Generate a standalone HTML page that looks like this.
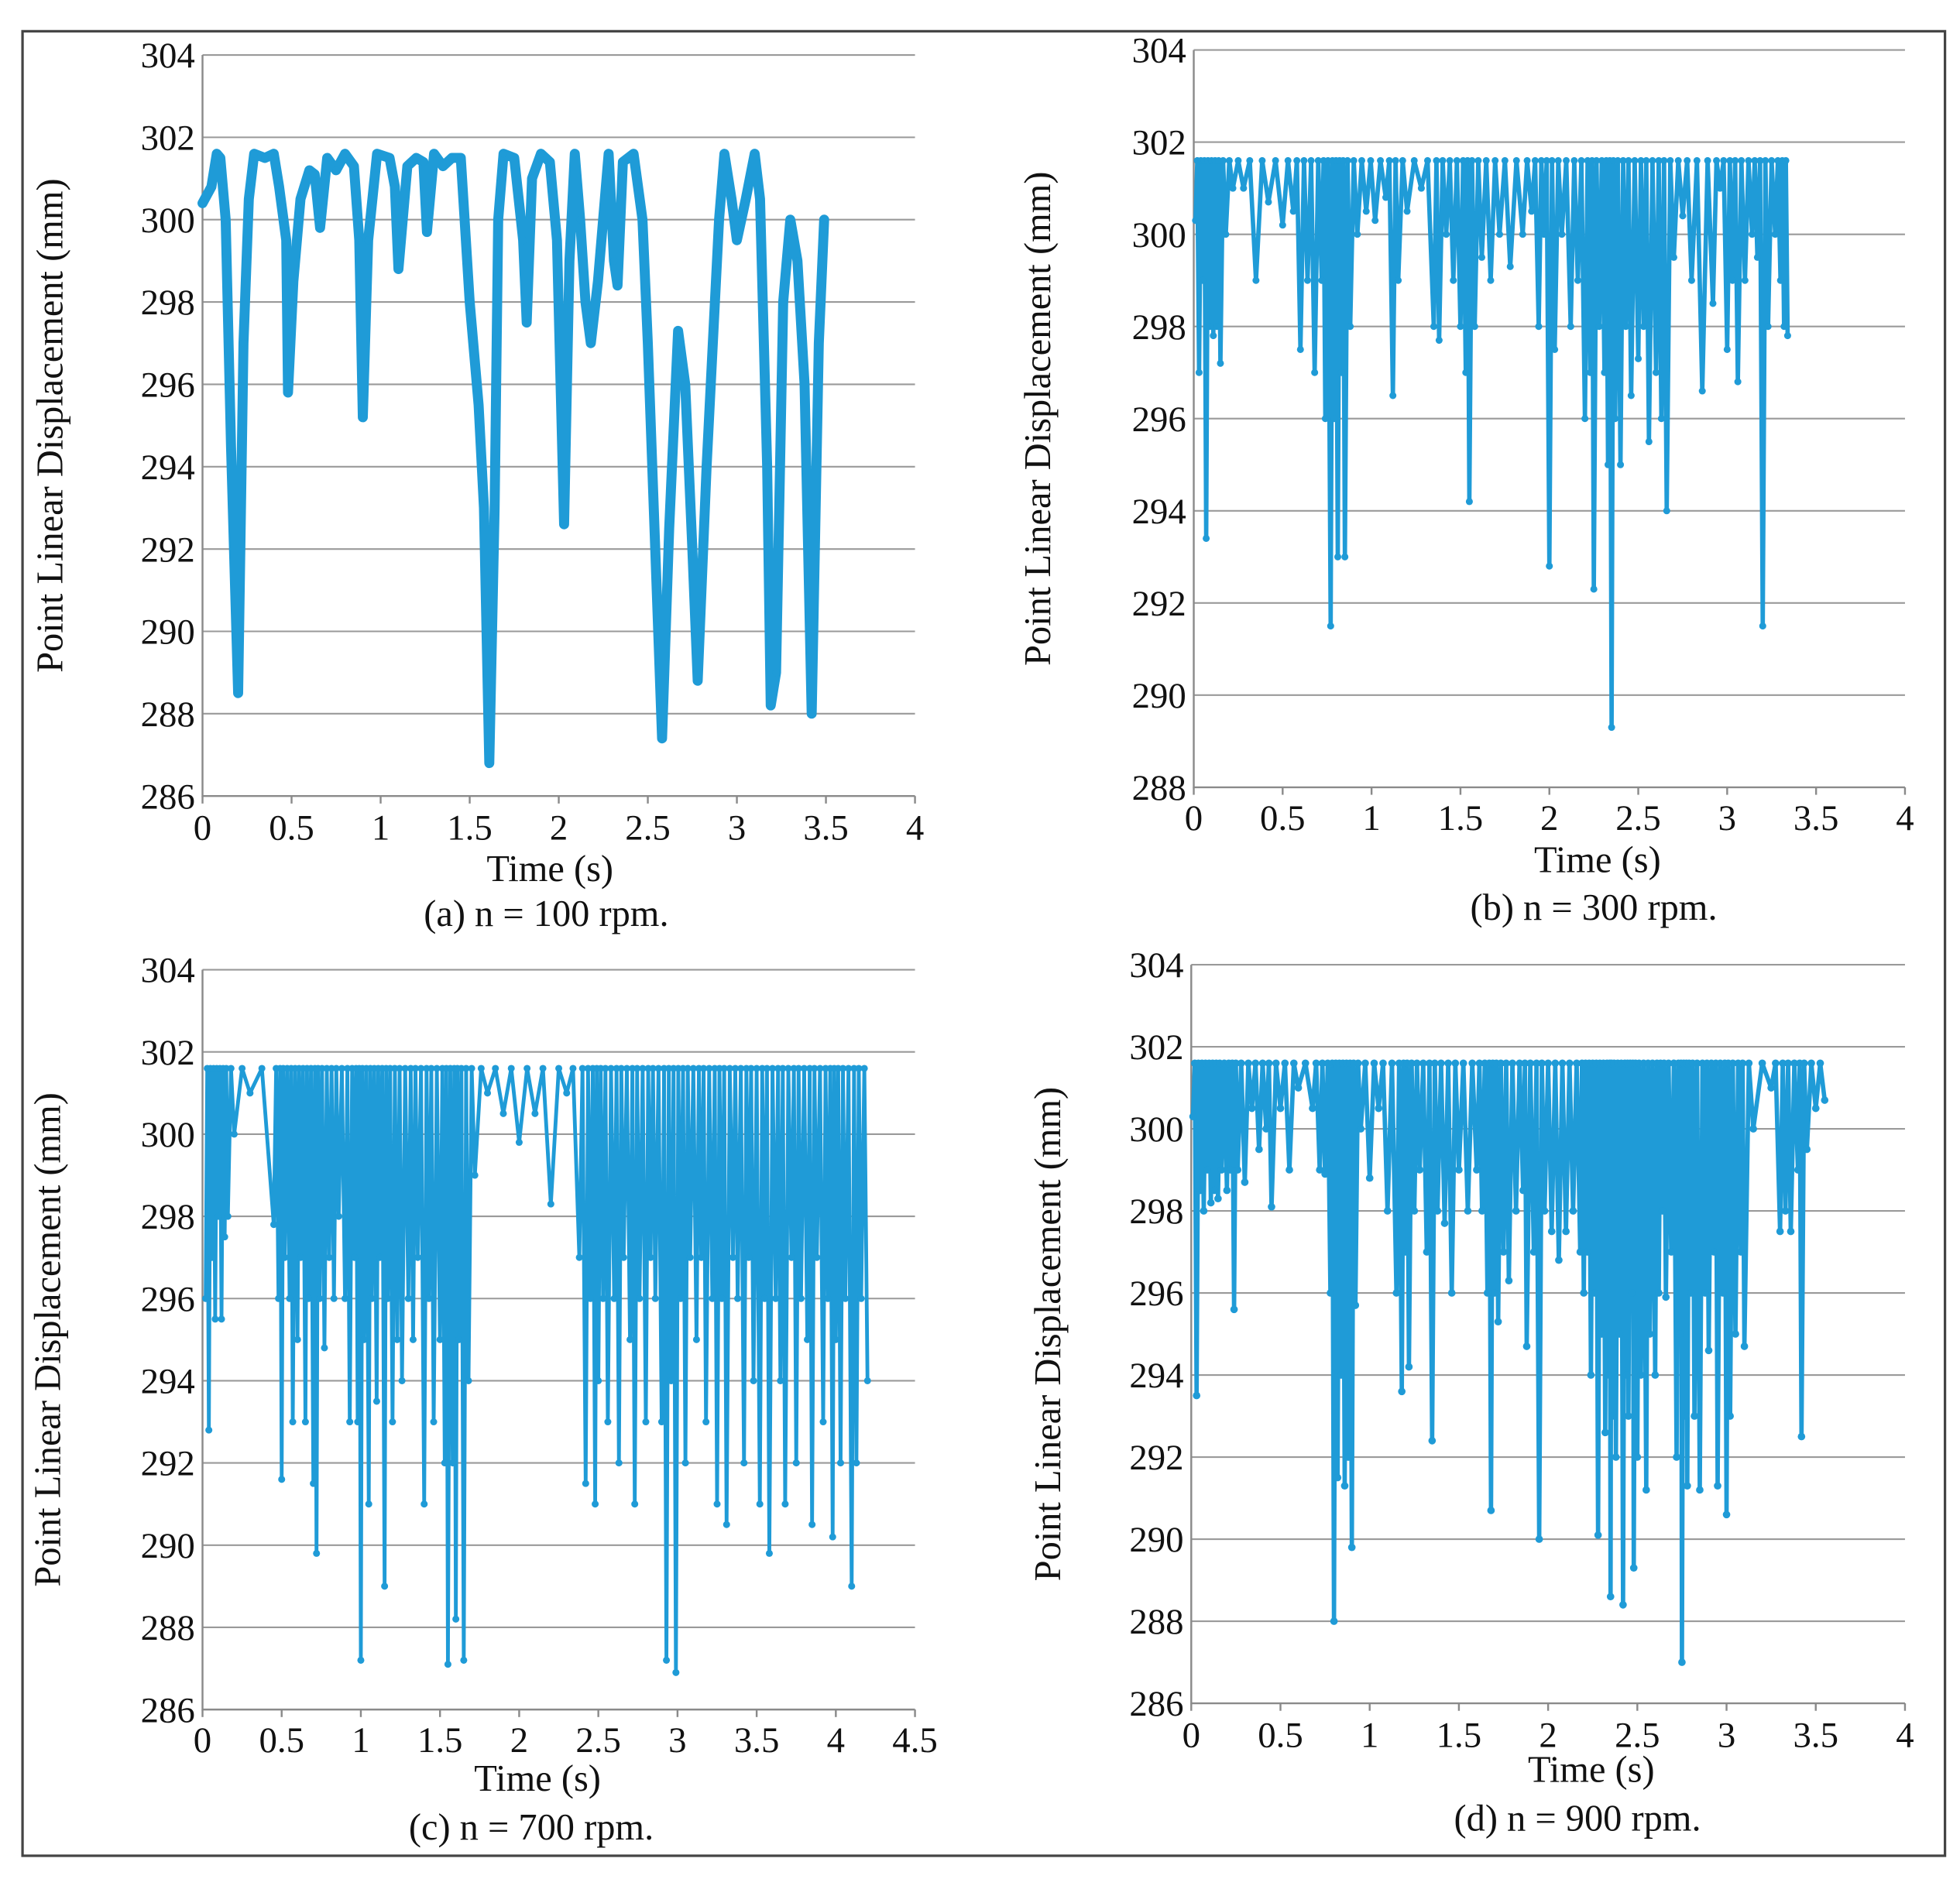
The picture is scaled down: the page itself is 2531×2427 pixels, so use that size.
<!DOCTYPE html>
<html><head><meta charset="utf-8"><style>
body{margin:0;background:#fff}
svg{display:block}
text{font-family:"Liberation Serif","Times New Roman",serif;fill:#111}
</style></head><body>
<svg id="fig" width="2531" height="2427" viewBox="0 0 1568 1503.6" xmlns="http://www.w3.org/2000/svg" font-family="Liberation Serif, Times New Roman, serif">
<rect x="18" y="25" width="1538" height="1460" fill="#fff" stroke="#444" stroke-width="2"/>
</svg>
<script>
// Panel (a) traced series
const aT=[0,0.05,0.08,0.1,0.13,0.16,0.2,0.23,0.26,0.29,0.35,0.4,0.43,0.47,0.48,0.51,0.55,0.6,0.63,0.66,0.7,0.75,0.8,0.85,0.88,0.9,0.93,0.98,1.05,1.08,1.1,1.15,1.2,1.24,1.26,1.3,1.35,1.4,1.45,1.5,1.55,1.58,1.61,1.64,1.66,1.69,1.75,1.8,1.82,1.85,1.9,1.95,1.99,2.03,2.06,2.09,2.12,2.15,2.18,2.22,2.28,2.31,2.33,2.36,2.42,2.47,2.5,2.55,2.58,2.62,2.67,2.71,2.75,2.78,2.83,2.9,2.93,2.97,3.0,3.05,3.1,3.13,3.17,3.19,3.22,3.26,3.3,3.34,3.38,3.42,3.46,3.49];
const aY=[300.4,300.8,301.6,301.5,300,294.5,288.5,297,300.5,301.6,301.5,301.6,300.8,299.5,295.8,298.5,300.5,301.2,301.1,299.8,301.5,301.2,301.6,301.3,299.5,295.2,299.5,301.6,301.5,300.8,298.8,301.3,301.5,301.4,299.7,301.6,301.3,301.5,301.5,298,295.5,293,286.8,293,300,301.6,301.5,299.5,297.5,301,301.6,301.4,299.5,292.6,299,301.6,300,298,297,298.5,301.6,299,298.4,301.4,301.6,300,297,291,287.4,292.5,297.3,296,292,288.8,294,300,301.6,300.5,299.5,300.5,301.6,300.5,294,288.2,289,298,300,299,296,288,297,300];
// Panels (b)-(d): dip times and dip minima (peaks reach 301.6 between dips)
const peakVal=301.6;
const bDipT=[0.01,0.03,0.05,0.07,0.09,0.11,0.13,0.15,0.18,0.22,
 0.28,0.35,0.42,0.5,0.56,0.6,0.64,0.68,0.72,0.74,
 0.77,0.79,0.81,0.83,0.85,0.88,0.92,0.97,1.02,1.08,
 1.12,1.15,1.2,1.28,1.35,1.38,1.42,1.46,1.5,1.53,
 1.55,1.58,1.62,1.67,1.72,1.78,1.85,1.9,1.94,1.97,
 2.0,2.03,2.07,2.12,2.16,2.2,2.23,2.25,2.28,2.31,
 2.33,2.35,2.37,2.4,2.43,2.46,2.5,2.53,2.56,2.6,
 2.63,2.66,2.7,2.75,2.8,2.86,2.92,2.96,3.0,3.03,
 3.06,3.1,3.14,3.17,3.2,3.23,3.27,3.3,3.32,3.34];
const bDipY=[300.3,297,299,293.4,298,297.8,298,297.2,300,301,
 301,299,300.7,300.2,300.5,297.5,299,297,299,296,
 291.5,296,293,297,293,298,300,300.5,300.3,300.8,
 296.5,299,300.5,301,298,297.7,300,299,298,297,
 294.2,298,299.5,299,300,299.3,300,300.5,298,300,
 292.8,297.5,300,298,299,296,297,292.3,298,297,
 295,289.3,296,295,298,296.5,297.3,298,295.5,297,
 296,294,299.5,300.4,299,296.6,298.5,301,297.5,299,
 296.8,299,300,299.5,291.5,298,300,299,298,297.8];
const cDipT=[0.02,0.04,0.06,0.08,0.1,0.12,0.14,0.16,0.2,0.3,
 0.45,0.48,0.5,0.52,0.55,0.57,0.6,0.62,0.65,0.67,
 0.7,0.72,0.74,0.77,0.8,0.83,0.86,0.9,0.93,0.96,
 0.98,1.0,1.02,1.05,1.07,1.1,1.12,1.15,1.17,1.2,
 1.23,1.26,1.3,1.33,1.36,1.4,1.43,1.46,1.5,1.53,
 1.55,1.58,1.6,1.62,1.65,1.68,1.72,1.8,1.9,2.0,
 2.1,2.2,2.3,2.38,2.42,2.45,2.48,2.5,2.53,2.56,
 2.6,2.63,2.66,2.7,2.73,2.76,2.8,2.83,2.86,2.9,
 2.93,2.96,2.99,3.02,3.05,3.08,3.12,3.15,3.18,3.22,
 3.25,3.28,3.31,3.35,3.38,3.42,3.45,3.48,3.52,3.55,
 3.58,3.62,3.65,3.68,3.72,3.75,3.78,3.82,3.85,3.88,
 3.92,3.95,3.98,4.0,4.03,4.06,4.1,4.13,4.16,4.2];
const cDipY=[296,292.8,297,295.5,298,295.5,297.5,298,300,301,
 297.8,296,291.6,297,296,293,295,297,293,296,
 291.5,289.8,296,294.8,297,296,298,296,293,297,
 293,287.2,295,291,296,293.5,297,289,296,293,
 295,294,296,295,297,291,296,293,295,292,
 287.1,292,288.2,295,287.2,294,299,301,300.5,299.8,
 300.5,298.3,301,297,291.5,296,291,294,296,293,
 296,292,297,295,291,296,293,297,296,293,
 287.2,294,286.9,296,292,297,295,297,293,296,
 291,296,290.5,297,296,292,297,294,291,296,
 289.8,296,294,291,297,292,296,295,290.5,297,
 293,296,290.2,295,292,296,289,292,296,294];
const dDipT=[0.01,0.03,0.05,0.07,0.09,0.11,0.13,0.15,0.17,0.2,
 0.22,0.24,0.26,0.3,0.34,0.38,0.42,0.45,0.5,0.55,
 0.6,0.68,0.72,0.75,0.78,0.8,0.82,0.84,0.86,0.88,
 0.9,0.92,0.95,1.0,1.05,1.1,1.15,1.18,1.2,1.22,
 1.25,1.28,1.32,1.35,1.38,1.42,1.46,1.5,1.55,1.6,
 1.63,1.66,1.68,1.7,1.72,1.75,1.78,1.82,1.86,1.88,
 1.92,1.95,1.98,2.02,2.06,2.1,2.14,2.18,2.2,2.22,
 2.24,2.26,2.28,2.3,2.32,2.34,2.35,2.36,2.38,2.4,
 2.42,2.44,2.45,2.47,2.48,2.5,2.52,2.55,2.57,2.6,
 2.62,2.64,2.66,2.69,2.72,2.74,2.75,2.77,2.78,2.8,
 2.82,2.85,2.88,2.9,2.93,2.95,2.98,3.0,3.02,3.05,
 3.08,3.1,3.15,3.25,3.3,3.33,3.36,3.4,3.42,3.45,
 3.5,3.55];
const dDipY=[300.3,293.5,298.5,298,299,298.2,298.5,298.3,299,298.5,
 299,295.6,299,298.7,300.5,299.5,300,298.1,300.5,299,
 301,300.5,299,298.9,296,288,291.5,294,291.3,292,
 289.8,295.7,300,298.8,300.5,298,296,293.6,297,294.2,
 298,299,297,292.4,298,297.7,296,299,298,299,
 298,296,290.7,296,295.3,297,296.3,298,298.5,294.7,
 297,290,298,297.5,296.8,297.5,298,297,296,297,
 294,296,290.1,295,292.6,294,288.6,293,292,295,
 288.4,294,293,296,289.3,292,294,291.2,295,294,
 296,298,295.9,297,292,295,287,293,291.3,296,
 293,291.2,296,294.6,297,291.3,296,290.6,293,295,
 297,294.7,300,301,297.5,298,297.5,299,292.5,299.5,
 300.5,300.7];
const panels=[
 {id:'a',x0:162,x1:732,yT:44,yB:637,yMin:286,yMax:304,xMax:4,ylx:40,tickY:670,timeY:705,capY:741,capX:437,timeX:440,cap:'(a) n = 100 rpm.',lw:8,r:3},
 {id:'b',x0:955,x1:1524,yT:40,yB:630,yMin:288,yMax:304,xMax:4,ylx:830,tickY:662,timeY:698,capY:736,capX:1275,timeX:1278,cap:'(b) n = 300 rpm.',lw:3.5,r:2.8,dT:bDipT,dY:bDipY},
 {id:'c',x0:162,x1:732,yT:776,yB:1368,yMin:286,yMax:304,xMax:4.5,ylx:38,tickY:1400,timeY:1433,capY:1472,capX:425,timeX:430,cap:'(c) n = 700 rpm.',lw:3,r:2.8,dT:cDipT,dY:cDipY},
 {id:'d',x0:953,x1:1524,yT:772,yB:1363,yMin:286,yMax:304,xMax:4,ylx:838,tickY:1396,timeY:1426,capY:1465,capX:1262,timeX:1273,cap:'(d) n = 900 rpm.',lw:3.5,r:3,dT:dDipT,dY:dDipY}
];
const NS='http://www.w3.org/2000/svg';
const svg=document.getElementById('fig');
function mk(tag,attrs,parent){const e=document.createElementNS(NS,tag);for(const k in attrs)e.setAttribute(k,attrs[k]);(parent||svg).appendChild(e);return e;}
panels.forEach(p=>{
 const g=mk('g',{});
 
 
 const sx=t=>p.x0+(t/p.xMax)*(p.x1-p.x0);
 const sy=v=>p.yB-(v-p.yMin)/(p.yMax-p.yMin)*(p.yB-p.yT);
 for(let v=p.yMin;v<=p.yMax;v+=2){
  if(v>p.yMin){const l=mk('line',{x1:p.x0,x2:p.x1,y1:sy(v),y2:sy(v),stroke:'#9a9a9a','stroke-width':1.3},g);
  
  }
  const t=mk('text',{x:p.x0-6,y:sy(v)+10,'text-anchor':'end','font-size':29},g);
  
  
  t.textContent=v;
 }
 const ax=mk('path',{d:`M${p.x0} ${p.yT}V${p.yB}H${p.x1}`,stroke:'#8a8a8a','stroke-width':1.5,fill:'none'},g);
 
 
 for(let t=0;t<=p.xMax+1e-9;t+=0.5){
  mk('line',{x1:sx(t),x2:sx(t),y1:p.yB,y2:p.yB+6,stroke:'#8a8a8a','stroke-width':1.5},g);
  const tx=mk('text',{x:sx(t),y:p.tickY+2,'text-anchor':'middle','font-size':29},g);
  
  
  tx.textContent=String(t);
 }
 let pts=[];
 if(p.id==='a'){pts=aT.map((t,i)=>[sx(t),sy(aY[i])]);}
 else{
  const n=Math.min(p.dT.length,p.dY.length);
  for(let i=0;i<n;i++){
   pts.push([sx(p.dT[i]),sy(p.dY[i])]);
   if(i<n-1)pts.push([sx((p.dT[i]+p.dT[i+1])/2),sy(peakVal)]);
  }
 }
 const line=mk('polyline',{points:pts.map(q=>q.join(',')).join(' '),fill:'none',stroke:'#1f9bd7','stroke-width':p.lw,'stroke-linejoin':'round','stroke-linecap':'round'},g);
 
 
 pts.forEach(q=>{const c=mk('circle',{cx:q[0],cy:q[1],r:p.r,fill:'#1f9bd7'},g);
  
  });
 const yl=mk('text',{x:0,y:0,transform:`translate(${p.ylx+10},${(p.yT+p.yB)/2}) rotate(-90)`,'text-anchor':'middle','font-size':30},g);
 
 
 yl.textContent='Point Linear Displacement (mm)';
 const xl=mk('text',{x:p.timeX,y:p.timeY,'text-anchor':'middle','font-size':30},g);
 
 
 xl.textContent='Time (s)';
 const cp=mk('text',{x:p.capX,y:p.capY,'text-anchor':'middle','font-size':30},g);
 
 
 cp.textContent=p.cap;
});
</script>
</body></html>
